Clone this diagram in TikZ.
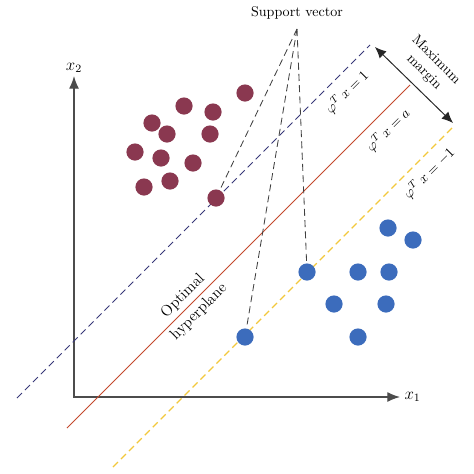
\documentclass[tikz,border=0pt]{standalone}
\usepackage{amssymb,amsmath}
\usetikzlibrary{positioning, arrows.meta}
\definecolor{dotred}{RGB}{138,56,80}
\definecolor{dotblue}{RGB}{60,108,188}
\definecolor{hypred}{RGB}{196,72,44}
\definecolor{plusnavy}{RGB}{56,56,120}
\definecolor{minusyellow}{RGB}{242,200,60}
\tikzset{
    redpt/.style={circle, fill=dotred, inner sep=0pt, minimum size=0.43cm},
    bluept/.style={circle, fill=dotblue, inner sep=0pt, minimum size=0.43cm},
    axis/.style={draw=black!70, line width=0.8pt},
    svline/.style={draw=black!75, dashed, dash pattern=on 5pt off 3pt, line width=0.6pt},
    lbl/.style={font=\normalsize, inner sep=1pt},
}

\begin{document}
\begin{tikzpicture}[x=0.025cm, y=-0.025cm]
        \useasboundingbox (0,0) rectangle (474,474);

        % axes
        \coordinate (O) at (74,397);
        \coordinate (ytop) at (74,76);
        \coordinate (xend) at (400,397);
        \draw[axis, {Latex[length=9pt,width=7pt]}-{Latex[length=9pt,width=7pt]}] (ytop) -- (O) -- (xend);
        \node[lbl, font=\large, above=1pt of ytop] (x2) {$x_2$};
        \node[lbl, font=\large, right=2pt of xend] (x1) {$x_1$};

        % hyperplanes
        \coordinate (pa) at (17,398);
        \coordinate (pb) at (370,45);
        \coordinate (ha) at (67,428);
        \coordinate (hb) at (410,85);
        \coordinate (ma) at (113,467);
        \coordinate (mb) at (453,127);
        \draw[plusnavy, line width=0.7pt, dash pattern=on 5pt off 3pt] (pa) -- (pb);
        \draw[hypred, line width=0.7pt] (ha) -- (hb);
        \draw[minusyellow, line width=0.8pt, dash pattern=on 5pt off 3pt] (ma) -- (mb);

        % margin
        \draw[black!85, line width=0.7pt, {Latex[length=8pt,width=7pt]}-{Latex[length=8pt,width=7pt]}] (375,47) -- (453,123);
        \node[lbl, rotate=-45, align=center] (mm) at (430,66) {Maximum\\margin};

        % labels on the planes
        \node[lbl, rotate=45] (l1) at (347,92) {$\varphi^{T}\,x = 1$};
        \node[lbl, rotate=45] (la) at (388,130) {$\varphi^{T}\,x = a$};
        \node[lbl, rotate=45] (lm) at (429,173) {$\varphi^{T}\,x = -1$};
        \node[lbl, font=\fontsize{11}{13}\selectfont, rotate=45, align=center] (opt) at (191,304) {Optimal\\[3pt]hyperplane};

        % class one
        \node[redpt] (r1) at (245,93) {};
        \node[redpt] (r2) at (184,106) {};
        \node[redpt] (r3) at (213,112) {};
        \node[redpt] (r4) at (152,123) {};
        \node[redpt] (r5) at (167,134) {};
        \node[redpt] (r6) at (210,134) {};
        \node[redpt] (r7) at (135,152) {};
        \node[redpt] (r8) at (161,158) {};
        \node[redpt] (r9) at (193,163) {};
        \node[redpt] (r10) at (144,187) {};
        \node[redpt] (r11) at (170,181) {};
        \node[redpt] (rsv) at (216,198) {};

        % class two
        \node[bluept] (b1) at (388,228) {};
        \node[bluept] (b2) at (413,240) {};
        \node[bluept] (b3) at (358,272) {};
        \node[bluept] (b4) at (389,272) {};
        \node[bluept] (b5) at (334,304) {};
        \node[bluept] (b6) at (386,304) {};
        \node[bluept] (b7) at (358,337) {};
        \node[bluept] (bsv1) at (307,272) {};
        \node[bluept] (bsv2) at (245,337) {};

        % support vectors
        \node[lbl] (sv) at (297,13) {Support vector};
        \coordinate (apex) at (297,29);
        \path[svline]
            (apex) edge (rsv)
                   edge (bsv1)
                   edge (bsv2);
\end{tikzpicture}
\end{document}
